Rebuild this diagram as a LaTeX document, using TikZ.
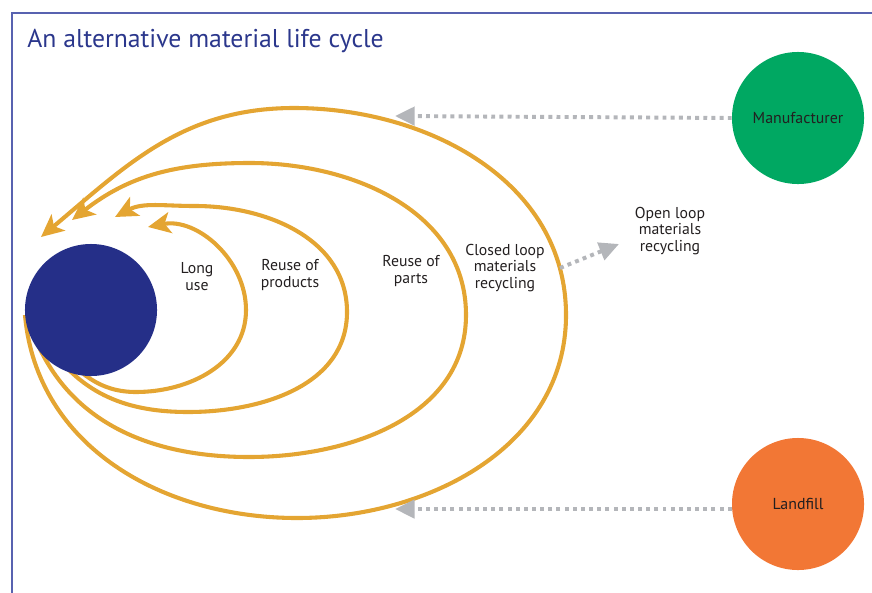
\documentclass[tikz,border=0pt]{standalone}
\usepackage{fontspec}
\setmainfont{PT Sans}
\usetikzlibrary{arrows.meta}
\definecolor{mlc_blue}{RGB}{37, 47, 136}
\definecolor{mlc_frame}{RGB}{88, 98, 176}
\definecolor{mlc_title}{RGB}{43, 55, 140}
\definecolor{mlc_green}{RGB}{0, 168, 98}
\definecolor{mlc_orange}{RGB}{242, 119, 53}
\definecolor{mlc_gold}{RGB}{228, 165, 50}
\definecolor{mlc_grey}{RGB}{180, 182, 186}
\definecolor{mlc_text}{RGB}{35, 31, 32}
\tikzstyle{stage}=[circle,draw=none,inner sep=0pt,minimum size=3.3cm,
  text=mlc_text,font=\fontsize{11.3}{13}\selectfont]
\tikzstyle{core}=[stage,fill=mlc_blue]
\tikzstyle{maker}=[stage,fill=mlc_green]
\tikzstyle{dump}=[stage,fill=mlc_orange]
\tikzstyle{lbl}=[align=center,text=mlc_text,inner sep=0pt,
  font=\fontsize{11.2}{12}\selectfont]
\tikzstyle{loop}=[draw=mlc_gold,line width=2.9pt,
  -{Stealth[length=16pt,width=15pt,inset=4pt]}]
\tikzstyle{flow}=[draw=mlc_grey,line width=2.8pt,dash pattern=on 2.8pt off 3pt,
  -{Triangle[length=14pt,width=13pt]}]
\tikzstyle{none}=[]

\begin{document}
\begin{tikzpicture}[x=0.025cm,y=-0.025cm]
    \useasboundingbox (0, 0) rectangle (872, 592);
    \draw [mlc_frame, line width=1.4pt] (12, 600) -- (12, 13) -- (880, 13);
    \node [anchor=base west, text=mlc_title, inner sep=0pt,
      font=\fontsize{18.3}{20}\selectfont] (t) at (27, 47) {An alternative material life cycle};

    % stages
    \node [style=none] (0) at (91, 310) {};
    \node [style=maker] (1) at (798, 118) {Manufacturer};
    \node [style=dump] (2) at (798, 504) {Landfill};
    \node [style=lbl] (4) at (197, 277) {Long\\use};
    \node [style=lbl] (5) at (290, 275) {Reuse of\\products};
    \node [style=lbl] (6) at (411, 271) {Reuse of\\parts};
    \node [style=lbl] (7) at (505, 268) {Closed loop\\materials\\recycling};
    \node [style=lbl] (8) at (670, 231) {Open loop\\materials\\recycling};

    % arrow tips and free ends
    \coordinate (9) at (148, 227);
    \coordinate (10) at (115, 217);
    \coordinate (11) at (72, 220);
    \coordinate (12) at (41, 237);
    \coordinate (13) at (395, 116);
    \coordinate (14) at (395, 509);
    \coordinate (15) at (560, 268);
    \coordinate (16) at (619, 244);

    % loops
    \draw [style=loop] (55, 345) to[out=-50, in=180] (136, 392) to[out=0, in=-90] (246, 310)
      to[out=90, in=11] (9);
    \draw [style=loop] (48, 345) to[out=-55, in=180] (188, 412) to[out=0, in=-90] (347, 312)
      to[out=90, in=0] (195, 206) to[out=180, in=28] (10);
    \draw [style=loop] (32, 330) to[out=-70, in=180] (249, 457) to[out=0, in=-90] (466, 315)
      to[out=90, in=0] (250, 163) to[out=180, in=38] (11);
    \draw [style=loop] (25, 315) to[out=-85, in=180] (297, 518) to[out=0, in=-90] (566, 315)
      to[out=90, in=0] (294, 108) to[out=180, in=40] (12);

    \node [style=core] (3) at (0) {};

    % material flows
    \draw [style=flow] (1.west) to (13);
    \draw [style=flow] (2.west |- 14) to (14);
    \draw [style=flow] (15) to (16);
\end{tikzpicture}
\end{document}
